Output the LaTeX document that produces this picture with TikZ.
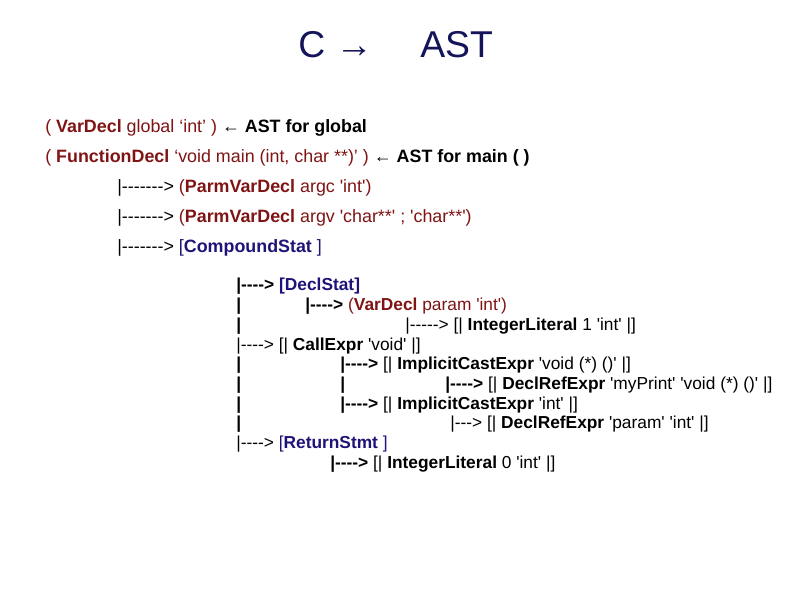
\documentclass[tikz,border=0pt]{standalone}
\usepackage{fontspec}
\setmainfont{Liberation Sans}[Ligatures=TeXOff]
\definecolor{dred}{RGB}{128,20,20}
\definecolor{dblue}{RGB}{30,20,120}
\definecolor{ttl}{RGB}{20,20,90}
\begin{document}
\begin{tikzpicture}[x=0.75pt,y=-0.75pt,
  t/.style={anchor=base west,inner sep=0pt,font=\fontsize{13.4}{15}\selectfont},
  s/.style={anchor=base west,inner sep=0pt,font=\fontsize{13}{15}\selectfont},
  tt/.style={anchor=base west,inner sep=0pt,font=\fontsize{28}{30}\selectfont,text=ttl}]
\useasboundingbox[fill=white] (0,0) rectangle (794,595);
\node[tt] (c) at (298,58) {C →};
\node[tt] (ast) at (420,58) {AST};
\node[t] (l1) at (45,133) {{\color{dred}( \textbf{VarDecl} global ‘int’ )} ← \textbf{AST for global}};
\node[t] (l2) at (45,163) {{\color{dred}( \textbf{FunctionDecl} ‘void main (int, char **)’ )} ← \textbf{AST for main ( )}};
\node[t] (l3) at (117,193) {|-------> {\color{dred}(\textbf{ParmVarDecl} argc 'int')}};
\node[t] (l4) at (117,223) {|-------> {\color{dred}(\textbf{ParmVarDecl} argv 'char**' ; 'char**')}};
\node[t] (l5) at (117,253) {|-------> {\color{dblue}[\textbf{CompoundStat} ]}};
\def\b#1{291+19.7*#1}
\node[s] (r0) at (236,{\b{0}}) {\textbf{|----> {\color{dblue}[DeclStat]}}};
\node[s] (v1) at (236,{\b{1}}) {\textbf{|}};
\node[s] (r1) at (305,{\b{1}}) {\textbf{|---->} {\color{dred}(\textbf{VarDecl} param 'int')}};
\node[s] (v2) at (236,{\b{2}}) {\textbf{|}};
\node[s] (r2) at (405,{\b{2}}) {|-----> [| \textbf{IntegerLiteral} 1 'int' |]};
\node[s] (r3) at (236,{\b{3}}) {|----> [| \textbf{CallExpr} 'void' |]};
\node[s] (v4) at (236,{\b{4}}) {\textbf{|}};
\node[s] (r4) at (340,{\b{4}}) {\textbf{|---->} [| \textbf{ImplicitCastExpr} 'void (*) ()' |]};
\node[s] (v5) at (236,{\b{5}}) {\textbf{|}};
\node[s] (v5b) at (340,{\b{5}}) {\textbf{|}};
\node[s] (r5) at (445,{\b{5}}) {\textbf{|---->} [| \textbf{DeclRefExpr} 'myPrint' 'void (*) ()' |]};
\node[s] (v6) at (236,{\b{6}}) {\textbf{|}};
\node[s] (r6) at (340,{\b{6}}) {\textbf{|---->} [| \textbf{ImplicitCastExpr} 'int' |]};
\node[s] (v7) at (236,{\b{7}}) {\textbf{|}};
\node[s] (r7) at (450,{\b{7}}) {|---> [| \textbf{DeclRefExpr} 'param' 'int' |]};
\node[s] (r8) at (236,{\b{8}}) {|----> {\color{dblue}[\textbf{ReturnStmt} ]}};
\node[s] (r9) at (330,{\b{9}}) {\textbf{|---->} [| \textbf{IntegerLiteral} 0 'int' |]};
\end{tikzpicture}
\end{document}
